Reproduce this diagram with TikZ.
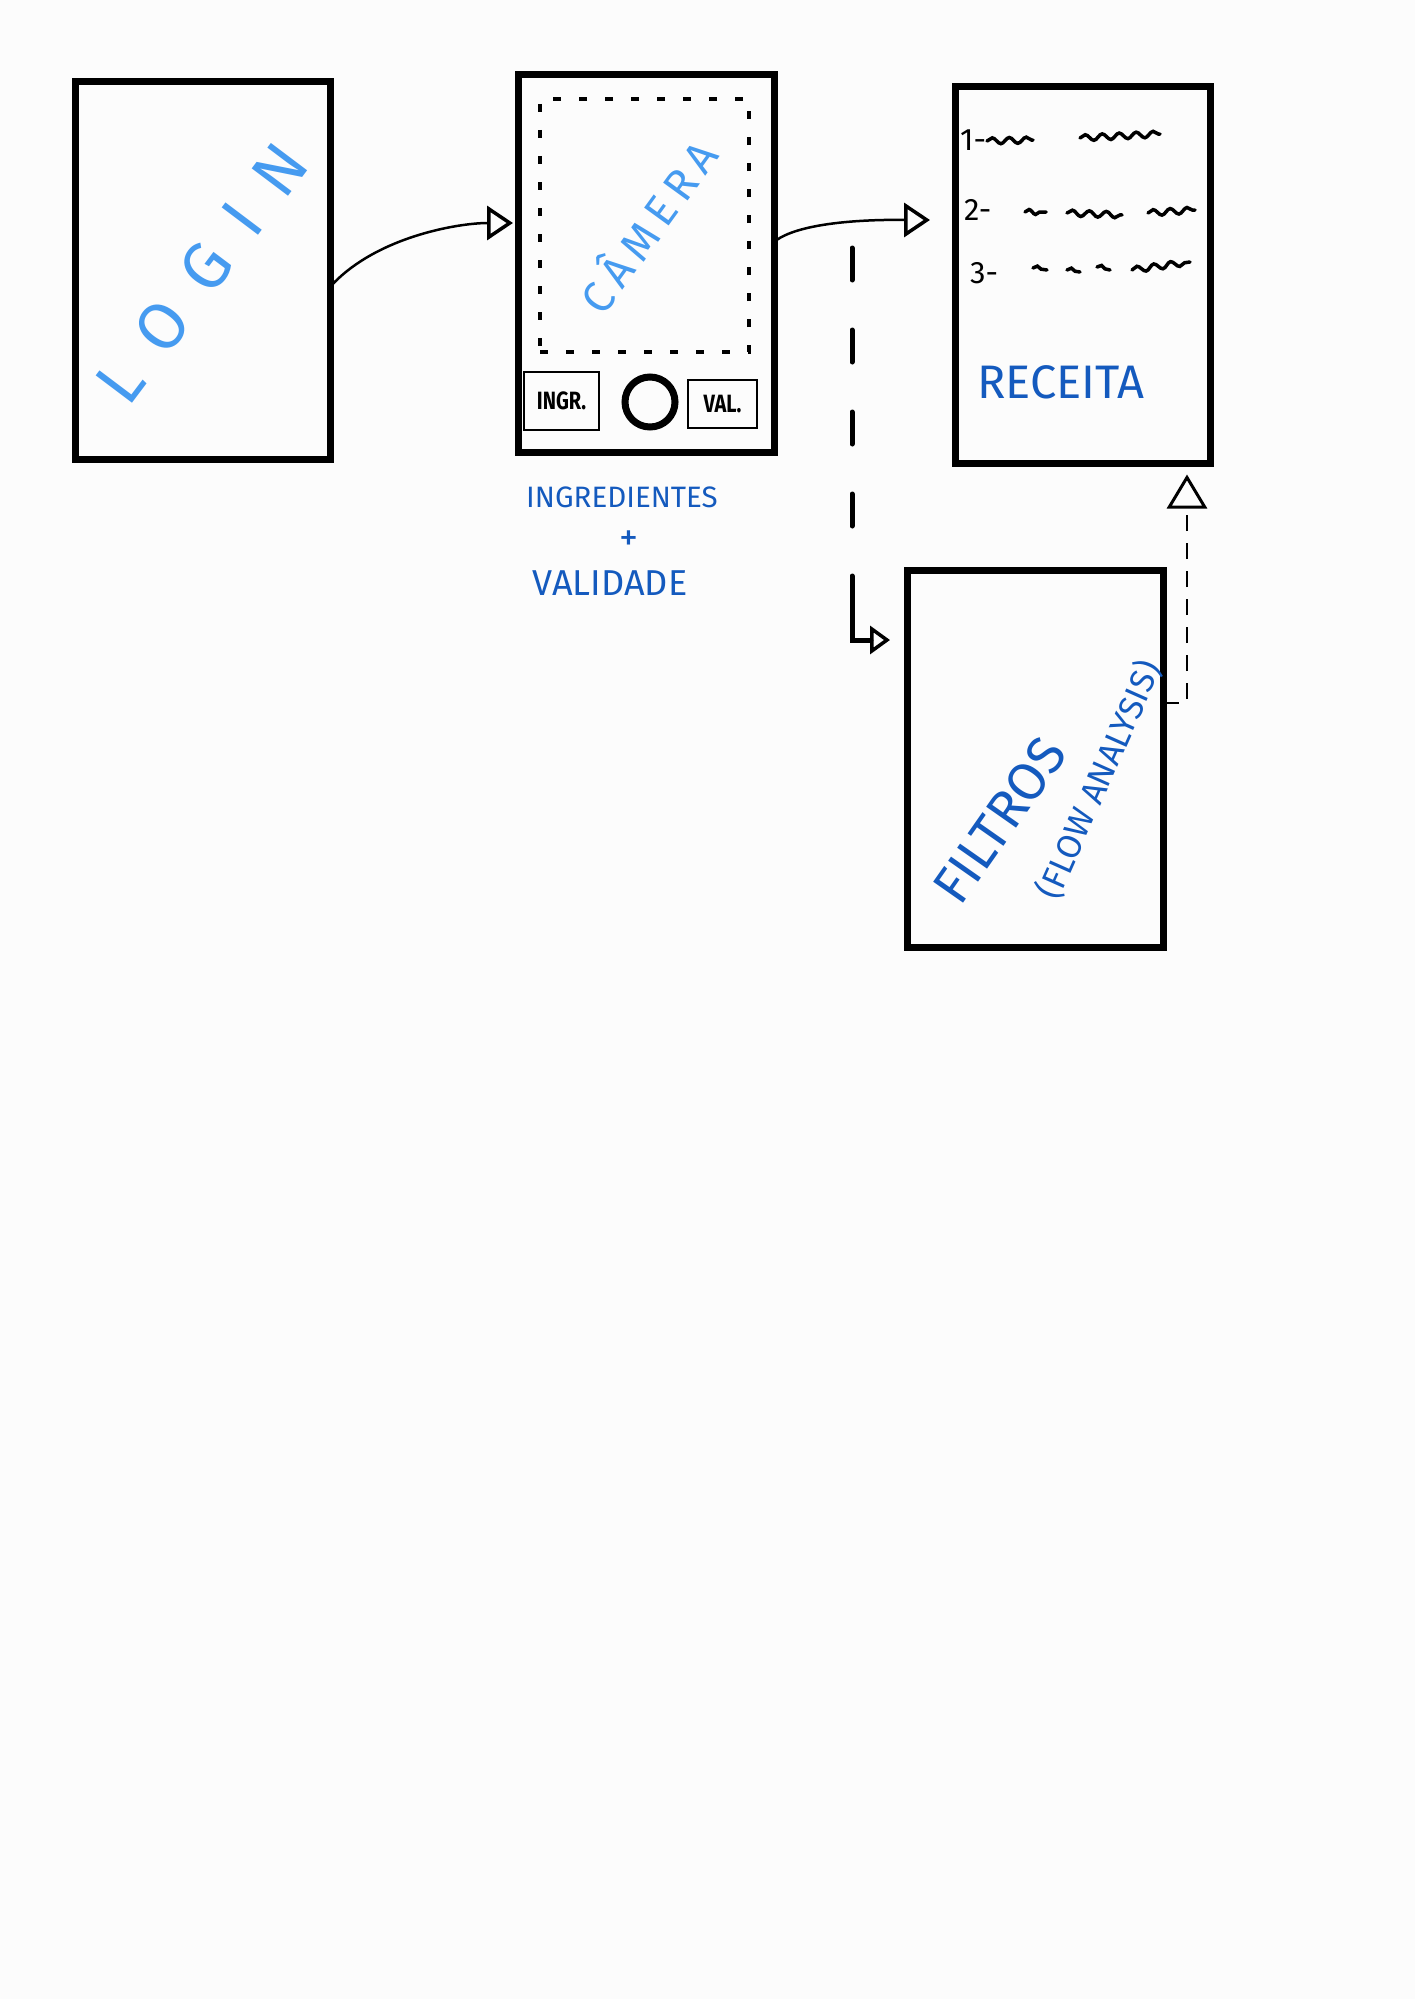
\documentclass[tikz,border=0pt]{standalone}
\usepackage{fontspec}
\setmainfont{Fira Sans}
\usetikzlibrary{arrows.meta,decorations.pathmorphing}
\definecolor{bgc}{RGB}{252,252,252}
\definecolor{lblue}{RGB}{70,155,240}
\definecolor{dblue}{RGB}{20,90,190}
\begin{document}
\begin{tikzpicture}[x=1pt,y=-1pt,
  screen/.style={draw=black,line width=7pt,rectangle,inner sep=0pt,outer sep=0pt,minimum width=256pt,minimum height=377pt},
  btn/.style={draw=black,line width=2.5pt,rectangle,inner sep=0pt,outer sep=0pt,font=\fontsize{25}{25}\selectfont\bfseries},
  conn/.style={line width=2.5pt,-{Triangle[open,length=26pt,width=34pt,line width=3.5pt]}},
  bconn/.style={line width=5pt,line cap=round,dash pattern=on 32pt off 50pt on 32pt off 50pt on 32pt off 50pt on 32pt off 50pt on 90pt off 10pt,-{Triangle[open,length=20pt,width=28pt,line width=3.5pt]}},
  dconn/.style={line width=2.5pt,dash pattern=on 16pt off 12pt,-{Triangle[open,length=34pt,width=40pt,line width=3pt]}},
  squig/.style={line width=3.5pt,line cap=round,decorate,decoration={snake,amplitude=3pt,segment length=17pt}},
  tiny/.style={line width=3.5pt,line cap=round,decorate,decoration={snake,amplitude=2.5pt,segment length=13pt}},
  lbl/.style={inner sep=0pt,text=dblue},
  num/.style={inner sep=0pt,anchor=west,font=\fontsize{31}{31}\selectfont}]
\fill[bgc] (0,0) rectangle (1415,1999);

% screens
\node[screen,minimum width=255pt] (login) at (202.5,270.5) {};
\node[screen] (camera) at (646,263.5) {};
\node[screen,minimum width=255pt] (receita) at (1082.5,275) {};
\node[screen] (filtros) at (1035,758.5) {};

% login text
\node[inner sep=0pt,text=lblue,rotate=53,font=\fontsize{66}{66}\selectfont] (logintxt) at (202,273) {L\kern30pt O\kern30pt G\kern30pt I\kern30pt N};

% camera contents
\node[draw=black,line width=3.5pt,dash pattern=on 8pt off 18pt,rectangle,inner sep=0pt,minimum width=209pt,minimum height=253pt] (viewfinder) at (644.5,225.5) {};
\node[inner sep=0pt,text=lblue,rotate=54,font=\fontsize{44}{44}\selectfont] (cameratxt) at (646,225) {C\kern8pt Â\kern8pt M\kern8pt E\kern8pt R\kern8pt A};
\node[btn,minimum width=75pt,minimum height=58pt] (ingr) at (561.5,401) {\scalebox{0.8}[1]{INGR.}};
\node[draw=black,line width=7pt,circle,inner sep=0pt,minimum size=50pt] (shutter) at (650,402) {};
\node[btn,minimum width=69pt,minimum height=48pt] (val) at (722.5,404) {\scalebox{0.8}[1]{VAL.}};

% caption below camera
\node[lbl,font=\fontsize{29.5}{29.5}\selectfont] (ingtxt) at (622,497) {INGREDIENTES};
\node[lbl,font=\fontsize{38}{38}\selectfont] (plustxt) at (629,541) {+};
\node[lbl,font=\fontsize{36}{36}\selectfont] (valtxt) at (610,583) {VALIDADE};

% receita contents
\node[num] (n1) at (960,140) {1-};
\node[num] (n2) at (964,210) {2-};
\node[num] (n3) at (970,273) {3-};
\draw[squig] (987,141) -- (1033,140);
\draw[squig] (1080,138) -- (1160,134);
\draw[tiny] (1025,212) -- (1046,212);
\draw[squig] (1067,213) -- (1122,215);
\draw[squig] (1148,213) -- (1195,210);
\draw[tiny] (1033,268) -- (1047,270);
\draw[tiny] (1067,270) -- (1080,272);
\draw[tiny] (1097,267) -- (1110,270);
\draw[squig] (1132,270) -- (1190,262);
\node[lbl,font=\fontsize{47}{47}\selectfont] (receitatxt) at (1061,382) {RECEITA};

% filtros contents
\node[lbl,rotate=55,font=\fontsize{53}{53}\selectfont] (filtrostxt) at (1000,820) {FILTROS};
\node[lbl,rotate=66,font=\fontsize{34}{34}\selectfont] (flowtxt) at (1099,780) {(FLOW ANALYSIS)};

% connectors
\draw[conn,shorten >=5pt] ([yshift=-16.5pt]login.east) .. controls +(45,-50) and +(-60,0) .. ([yshift=40.5pt]camera.west);
\draw[conn,shorten >=25pt] ([yshift=21.5pt]camera.east) .. controls +(30,-25) and +(-50,0) .. ([yshift=55pt]receita.west);
\coordinate (branch) at (852,248);
\draw[bconn,shorten >=17pt] (branch) |- ([yshift=118.5pt]filtros.west);
\draw[dconn,shorten >=11pt] ([yshift=55.5pt]filtros.east) -| ([xshift=-23pt]receita.south east);
\end{tikzpicture}
\end{document}
